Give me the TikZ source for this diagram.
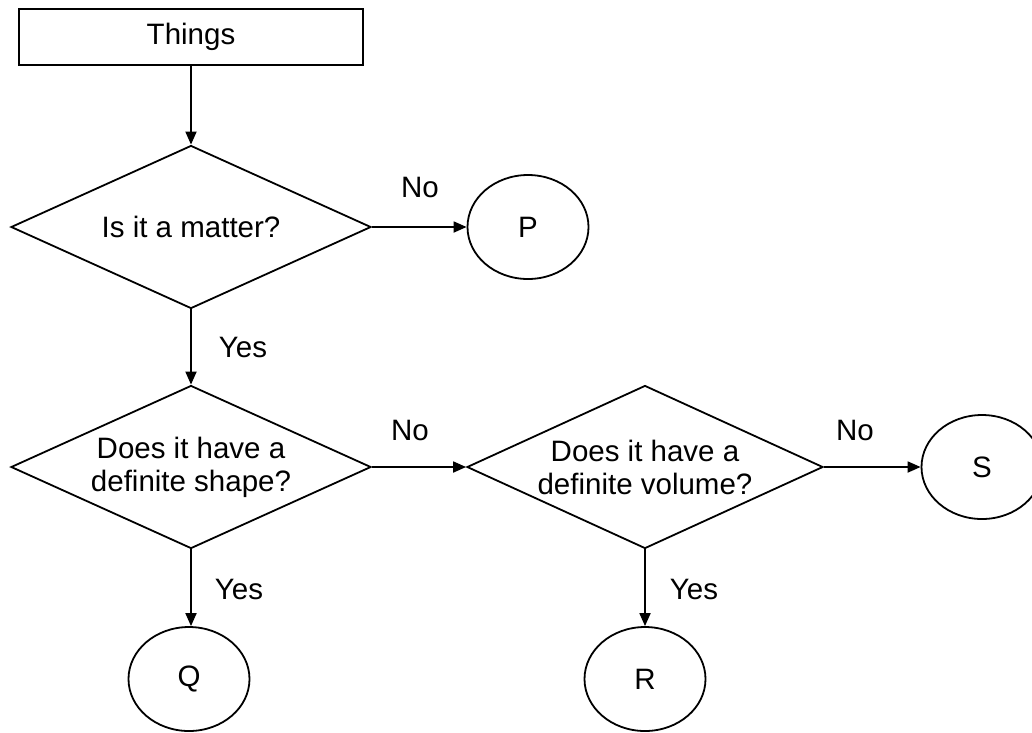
\documentclass[tikz,border=0pt]{standalone}
\usepackage{fontspec}
\setmainfont{Liberation Sans}
\usetikzlibrary{shapes.geometric,arrows.meta}
\begin{document}
\begin{tikzpicture}[x=1pt,y=-1pt,
  every node/.style={font=\fontsize{29.5}{33}\selectfont},
  stroke/.style={line width=1.8pt, draw=black},
  thingbox/.style={stroke, rectangle, minimum width=344pt, minimum height=56pt, inner sep=0pt},
  decision/.style={stroke, diamond, inner sep=0pt, minimum width=360pt, minimum height=163pt},
  terminal/.style={stroke, ellipse, inner sep=0pt, minimum width=121pt, minimum height=104pt},
  lbl/.style={inner sep=0pt},
  flow/.style={line width=1.8pt, -{Triangle[length=13pt,width=11pt]}}
]
\useasboundingbox (0,0) rectangle (1032,732);

\node[thingbox] (things) at (191,37) {Things};

\node[decision, label={[align=center,lbl]center:Is it a matter?}] (d1) at (191,227) {};
\node[terminal] (P) at (528,227) {P};

\node[decision, label={[align=center,lbl]center:Does it have a\\definite shape?}] (d2) at (191,467) {};
\node[decision, minimum width=356pt, label={[align=center,lbl]center:Does it have a\\definite volume?}] (d3) at (645,467) {};
\node[terminal] (S) at (982,467) {S};

\node[terminal] (Q) at (189,679) {Q};
\node[terminal] (R) at (645,679) {R};

\draw[flow] (things.south) -- (d1.north);
\draw[flow] (d1.east) -- (P.west);
\draw[flow] (d1.south) -- (d2.north);
\draw[flow] (d2.east) -- (d3.west);
\draw[flow] (d3.east) -- (S.west);
\draw[flow] (d2.south) -- (d2.south |- Q.north);
\draw[flow] (d3.south) -- (R.north);

\node[lbl] (no1) at (420,187) {No};
\node[lbl] (yes1) at (243,347) {Yes};
\node[lbl] (no2) at (410,430) {No};
\node[lbl] (no3) at (855,430) {No};
\node[lbl] (yes2) at (239,589) {Yes};
\node[lbl] (yes3) at (694,589) {Yes};
\end{tikzpicture}
\end{document}
